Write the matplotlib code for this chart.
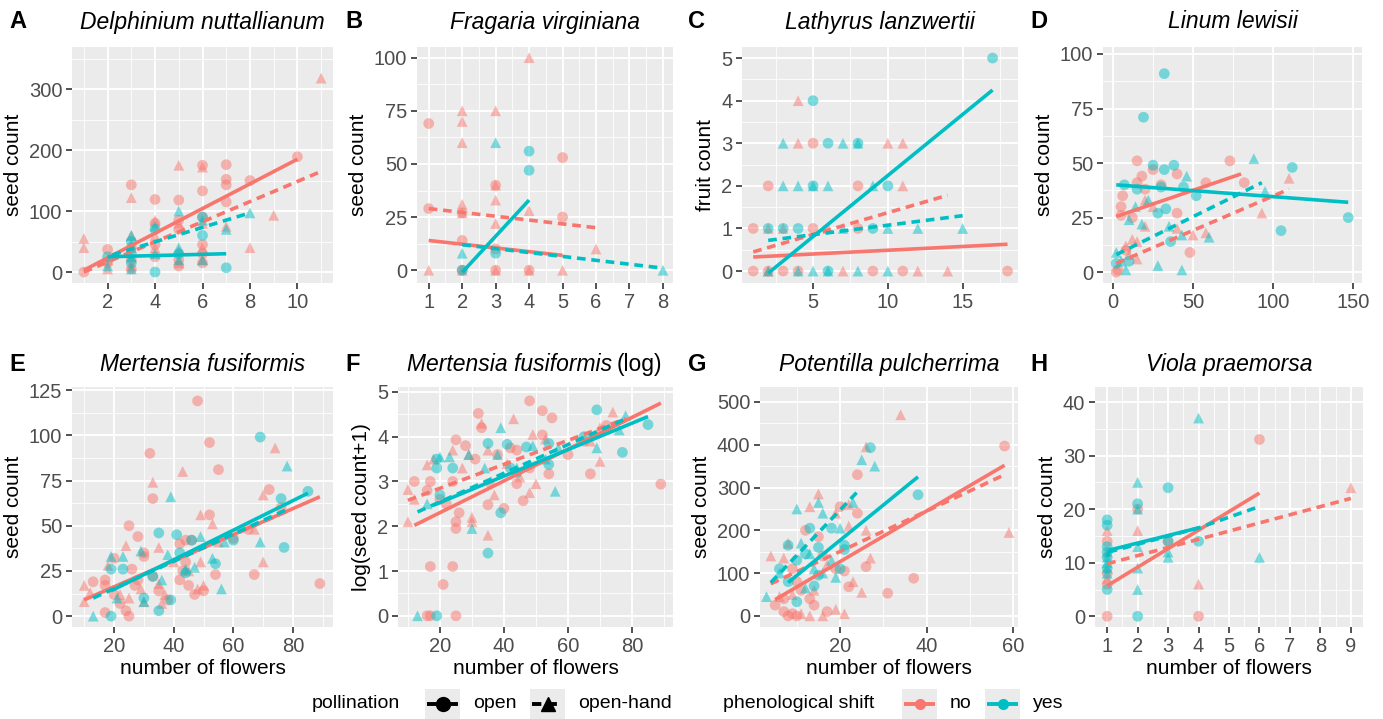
import numpy as np
import matplotlib
matplotlib.use("Agg")
import matplotlib.pyplot as plt
from matplotlib.patches import Rectangle

RED = "#F8766D"
CYAN = "#00BFC4"

# ---------------- data ----------------
# each group: list of (number of flowers, count)
A_no_open = [(1,0),(2,37),(2,15),(3,143),(3,40),(3,5),(4,119),(4,45),(4,25),(5,118),(5,85),(5,70),(5,20),
             (6,175),(6,133),(6,90),(6,45),(6,15),(7,176),(7,152),(7,143),(7,115),(10,189),(8,150),(4,80),(5,10),(6,30),(3,20)]
A_no_hand = [(1,55),(1,40),(2,20),(2,5),(3,122),(3,60),(3,40),(3,10),(4,85),(4,60),(4,40),(5,175),(5,80),(5,35),(5,15),
             (6,172),(6,80),(6,40),(6,20),(7,75),(8,40),(9,93),(11,318)]
A_yes_open = [(2,25),(3,30),(3,15),(4,0),(4,70),(5,30),(6,90),(6,60),(7,7),(3,50)]
A_yes_hand = [(2,10),(3,60),(3,45),(3,5),(4,75),(5,100),(5,40),(5,20),(6,85),(6,20),(7,70),(8,97),(4,30),(3,25)]
A_fit = {"no_open": [(1,3),(10,185)], "no_hand": [(1,0),(11,165)],
         "yes_open": [(2,25),(7,30)], "yes_hand": [(2.2,28),(8,97)]}

B_no_open = [(1,69),(1,29),(2,14),(2,0),(3,0),(3,10),(4,0),(5,53),(5,25),(3,40),(2,27)]
B_no_hand = [(1,0),(2,75),(2,70),(2,60),(2,31),(2,27),(3,75),(3,40),(3,33),(3,22),(3,0),(4,100),(4,28),(4,0),(5,0),(6,10),(2,0)]
B_yes_open = [(3,8),(4,56),(4,47),(2,0)]
B_yes_hand = [(2,8),(3,60),(8,0)]
B_fit = {"no_open": [(1,14),(5,7)], "no_hand": [(1,29),(6,20)],
         "yes_open": [(2,-1),(4,33)], "yes_hand": [(2,12),(8,1)]}

C_no_open = [(1,1),(1,0),(2,2),(3,0),(5,3),(5,1),(8,2),(8,1),(9,0),(11,0),(18,0),(4,0),(2,0)]
C_no_hand = [(4,4),(4,3),(2,0),(3,1),(10,3),(11,3),(11,2),(12,0),(14,0),(7,0),(2,1),(6,1)]
C_yes_open = [(5,4),(6,3),(3,1),(6,0),(10,2),(17,5),(9,1),(8,3),(5,2),(2,1),(4,1)]
C_yes_hand = [(3,3),(3,2),(4,2),(5,2),(6,2),(7,3),(8,3),(7,1),(10,1),(12,1),(15,1),(10,0),(8,0),(5,0),(4,0),(9,2),(2,0),(6,0)]
C_fit = {"no_open": [(1,0.33),(18,0.63)], "no_hand": [(1,0.45),(14,1.78)],
         "yes_open": [(2,-0.05),(17,4.25)], "yes_hand": [(2,0.72),(15,1.3)]}

D_no_open = [(2,0),(5,30),(6,35),(5,26),(15,51),(18,44),(15,41),(20,38),(25,47),(30,40),(40,45),(40,27),(48,9),
             (58,41),(73,51),(82,41),(8,10),(12,25),(3,1)]
D_no_hand = [(8,12),(10,8),(15,6),(15,14),(20,21),(25,30),(40,20),(50,17),(58,18),(93,27),(110,43),(20,33),(12,15)]
D_yes_open = [(2,4),(7,40),(15,38),(19,71),(32,91),(25,49),(32,47),(38,49),(30,39),(33,29),(36,14),(44,39),(52,35),
              (105,19),(112,48),(147,25),(28,27),(10,5)]
D_yes_hand = [(2,9),(8,1),(10,24),(14,30),(18,22),(22,33),(28,3),(35,21),(43,17),(46,44),(43,1),(60,16),(88,52),(95,37),(5,5)]
D_fit = {"no_open": [(2,25.5),(80,45)], "no_hand": [(2,4),(110,38)],
         "yes_open": [(2,40),(147,32)], "yes_hand": [(2,8),(93,41)]}

E_no_open = [(48,119),(52,96),(55,81),(32,90),(33,65),(72,70),(52,56),(25,50),(28,44),(17,20),(13,19),(17,17),(20,12),
             (22,7),(17,2),(24,3),(25,0),(27,17),(30,33),(42,40),(44,42),(42,20),(45,17),(47,12),(50,14),(54,23),(67,23),
             (89,18),(38,9),(35,14),(33,22),(30,35),(20,32),(26,26),(28,20),(44,30),(43,25),(46,42),(60,43),(65,48),(76,60)]
E_no_hand = [(33,74),(43,80),(74,93),(70,67),(70,30),(67,48),(49,56),(53,51),(35,38),(24,39),(18,28),(10,17),(10,8),
             (12,13),(29,15),(30,8),(35,18),(37,12),(40,30),(45,25),(49,30),(50,17),(48,15),(36,7),(25,10),(22,12),(55,41)]
E_yes_open = [(69,99),(85,69),(76,65),(77,38),(35,46),(41,45),(46,42),(54,29),(19,26),(23,26),(33,22),(35,3),(19,0),
              (39,9),(42,35),(44,24),(30,10),(60,42)]
E_yes_hand = [(39,66),(78,83),(69,41),(56,15),(53,32),(49,44),(38,34),(29,36),(23,33),(19,33),(13,0),(21,10),(30,8),
              (47,27),(57,41),(36,20),(44,26)]
E_fit = {"no_open": [(10,9),(89,66)], "no_hand": [(13,11),(78,58)],
         "yes_open": [(19,14),(85,68)], "yes_hand": [(13,10),(78,59)]}

F_no_open = [(48,4.8),(52,4.58),(55,4.42),(32,4.52),(33,4.2),(25,3.93),(28,3.8),(12,3.0),(17,3.0),(16,2.8),(24,3.0),
             (26,2.3),(25,2.1),(25,1.95),(17,1.1),(24,1.1),(21,0.7),(16,0),(17,0),(25,0),(46,2.57),(54,3.17),(67,3.17),
             (89,2.94),(72,4.25),(52,4.04),(42,3.75),(44,3.7),(35,2.48),(40,2.4),(44,2.95),(31,3.5),(38,3.6),(20,2.6),
             (22,2.5),(48,3.3),(60,3.6),(65,3.9)]
F_no_hand = [(10,2.1),(10,2.82),(12,2.6),(16,3.37),(18,3.5),(24,3.7),(27,3.3),(29,3.6),(30,2.2),(30,2.1),(33,4.3),
             (35,3.7),(35,1.8),(37,2.7),(43,4.4),(49,4.05),(50,2.95),(48,2.75),(53,3.95),(70,4.2),(70,3.45),(74,4.55),
             (67,3.9),(45,3.1),(41,3.4),(36,3.0)]
F_yes_open = [(19,3.5),(19,3.3),(20,2.7),(24,3.3),(35,3.85),(35,1.4),(39,2.3),(41,3.83),(44,3.2),(47,3.77),(54,3.38),
              (54,3.85),(65,4.0),(69,4.6),(77,3.65),(85,4.27),(19,0),(42,3.3)]
F_yes_hand = [(13,0),(16,2.5),(20,3.55),(23,3.55),(29,3.6),(30,1.95),(34,3.3),(39,4.2),(38,3.6),(49,3.8),(53,3.5),
              (56,2.78),(57,3.75),(69,3.75),(76,4.15),(78,4.47),(44,3.3)]
F_fit = {"no_open": [(12,2.02),(89,4.75)], "no_hand": [(10,2.58),(78,4.4)],
         "yes_open": [(18,2.47),(85,4.45)], "yes_hand": [(13,2.32),(78,4.4)]}

G_no_open = [(5,25),(7,10),(8,0),(9,5),(10,0),(12,200),(15,185),(20,255),(21,105),(22,68),(24,330),(24,240),(26,115),
             (31,53),(37,88),(58,397),(10,80),(13,40),(14,25),(17,10),(11,60),(16,140),(19,110),(7,40),(9,110)]
G_no_hand = [(4,140),(7,135),(8,170),(13,255),(15,285),(19,240),(22,260),(22,210),(23,80),(25,55),(26,200),(26,395),
             (27,135),(34,470),(59,195),(6,45),(11,5),(13,0),(16,0),(19,15),(21,5),(14,60),(17,120),(9,50)]
G_yes_open = [(6,110),(8,80),(8,165),(10,130),(10,33),(13,205),(14,70),(15,160),(15,95),(18,205),(21,165),(21,155),
              (27,393),(38,283),(12,145),(20,110)]
G_yes_hand = [(3,45),(6,100),(10,250),(11,170),(13,145),(15,265),(16,240),(16,100),(19,90),(20,205),(23,265),(25,365),
              (28,350),(12,65),(18,130),(14,110)]
G_fit = {"no_open": [(5,38),(58,352)], "no_hand": [(4,75),(58,330)],
         "yes_open": [(8,78),(38,325)], "yes_hand": [(4,78),(24,290)]}

H_no_open = [(1,0),(1,6),(1,8),(1,14),(3,14),(4,0),(6,33),(2,20)]
H_no_hand = [(1,16),(1,12),(2,16),(4,6),(9,24),(1,7)]
H_yes_open = [(1,18),(1,17),(1,13),(1,9),(1,5),(1,11),(2,21),(2,0),(3,24),(3,14),(4,14),(1,12)]
H_yes_hand = [(1,11),(1,9),(1,8),(1,10),(2,25),(2,20),(2,13),(2,9),(2,5),(3,11),(3,12),(4,37),(6,11)]
H_fit = {"no_open": [(1,5.7),(6,23)], "no_hand": [(1,9.8),(9,22)],
         "yes_open": [(1,11.2),(1.1,12.4),(4,16.5)], "yes_hand": [(1.05,12.0),(4,16.5),(6,20.5)]}

panels = [
    ("A", "Delphinium nuttallianum", None, "seed count", (A_no_open, A_no_hand, A_yes_open, A_yes_hand), A_fit,
     (0.5, 11.5), (-18, 369), [2,4,6,8,10], [0,100,200,300], (72, 47, 333, 283), False),
    ("B", "Fragaria virginiana", None, "seed count", (B_no_open, B_no_hand, B_yes_open, B_yes_hand), B_fit,
     (0.65, 8.3), (-6, 105), [1,2,3,4,5,6,7,8], [0,25,50,75,100], (417, 47, 673, 283), False),
    ("C", "Lathyrus lanzwertii", None, "fruit count", (C_no_open, C_no_hand, C_yes_open, C_yes_hand), C_fit,
     (0.25, 18.7), (-0.28, 5.26), [5,10,15], [0,1,2,3,4,5], (742, 47, 1018, 283), False),
    ("D", "Linum lewisii", None, "seed count", (D_no_open, D_no_hand, D_yes_open, D_yes_hand), D_fit,
     (-6.3, 155.6), (-5, 103.2), [0,50,100,150], [0,25,50,75,100], (1103, 47, 1362, 283), False),
    ("E", "Mertensia fusiformis", "number of flowers", "seed count", (E_no_open, E_no_hand, E_yes_open, E_yes_hand), E_fit,
     (5.9, 93.4), (-6, 126.7), [20,40,60,80], [0,25,50,75,100,125], (72, 387, 333, 627), False),
    ("F", "Mertensia fusiformis", "number of flowers", "log(seed count+1)", (F_no_open, F_no_hand, F_yes_open, F_yes_hand), F_fit,
     (6.9, 92.8), (-0.25, 5.11), [20,40,60,80], [0,1,2,3,4,5], (398, 387, 673, 627), True),
    ("G", "Potentilla pulcherrima", "number of flowers", "seed count", (G_no_open, G_no_hand, G_yes_open, G_yes_hand), G_fit,
     (1.5, 61.1), (-26, 535), [20,40,60], [0,100,200,300,400,500], (760, 387, 1018, 627), False),
    ("H", "Viola praemorsa", "number of flowers", "seed count", (H_no_open, H_no_hand, H_yes_open, H_yes_hand), H_fit,
     (0.6, 9.4), (-2, 42.8), [1,2,3,4,5,6,7,8,9], [0,10,20,30,40], (1095, 387, 1363, 627), False),
]

W, H = 1383, 719
fig = plt.figure(figsize=(W/100, H/100), dpi=100)
plt.rcParams['font.family'] = ['Liberation Sans', 'DejaVu Sans']

def ax_rect(l, t, r, b):
    return [l/W, 1 - b/H, (r-l)/W, (b-t)/H]

DASH = (0, (2.4, 1.6))
TFS = 16.5

for letter, title, xlabel, ylabel, groups, fit, xlim, ylim, xt, yt, rect, logtitle in panels:
    ax = fig.add_axes(ax_rect(*rect))
    ax.set_facecolor("#EBEBEB")
    for s in ax.spines.values():
        s.set_visible(False)
    ax.set_xticks(xt); ax.set_yticks(yt)
    xs = np.diff(xt)[0]; ys = np.diff(yt)[0]
    xm = np.arange(xt[0] - xs/2, xlim[1] + xs, xs)
    ym = np.arange(yt[0] - ys/2, ylim[1] + ys, ys)
    ax.set_xticks(xm, minor=True); ax.set_yticks(ym, minor=True)
    ax.grid(True, which="major", color="white", lw=1.3, zorder=0)
    ax.grid(True, which="minor", color="white", lw=0.6, zorder=0)
    ax.set_axisbelow(True)
    ax.tick_params(which="major", length=4, width=1.2, color="#333333", labelcolor="#4D4D4D", labelsize=14.5, pad=3)
    ax.tick_params(which="minor", length=0)
    ax.set_xlim(*xlim); ax.set_ylim(*ylim)
    colors = [RED, RED, CYAN, CYAN]
    markers = ["o", "^", "o", "^"]
    for pts, c, m in zip(groups, colors, markers):
        p = np.array(pts, dtype=float)
        ax.scatter(p[:, 0], p[:, 1], s=60, marker=m, color=c, alpha=0.5, edgecolors="none", zorder=2)
    for key, c, ls in [("no_open", RED, "-"), ("no_hand", RED, DASH), ("yes_open", CYAN, "-"), ("yes_hand", CYAN, DASH)]:
        q = np.array(fit[key], dtype=float)
        ax.plot(q[:, 0], q[:, 1], color=c, lw=2.6, ls=ls, zorder=3, solid_capstyle="butt")
    ax.set_ylabel(ylabel, fontsize=15, color="black", labelpad=4)
    if xlabel:
        ax.set_xlabel(xlabel, fontsize=15, color="black", labelpad=2)
    top = rect[1]
    ty_fig = 1 - ((22 if letter in "ABCD" else 365)) / H
    cx = (rect[0] + rect[2]) / 2 / W
    if logtitle:
        fig.text(612 / W, ty_fig, title, ha="right", va="center", fontsize=TFS, style="italic")
        fig.text(617 / W, ty_fig, "(log)", ha="left", va="center", fontsize=TFS)
    else:
        fig.text(cx, ty_fig, title, ha="center", va="center", fontsize=TFS, style="italic")
    lx = {"A": 9, "B": 345, "C": 688, "D": 1030, "E": 9, "F": 345, "G": 688, "H": 1030}[letter]
    fig.text(lx/W, ty_fig, letter, fontsize=17, fontweight="bold", va="center", ha="left")

# ---------------- legend ----------------
lax = fig.add_axes([0, 0, 1, 1], zorder=-1)
lax.set_xlim(0, W); lax.set_ylim(H, 0); lax.axis("off")
ly = 704
lax.text(312, ly, "pollination", fontsize=14, va="center", ha="left")
lax.text(723, ly, "phenological shift", fontsize=14, va="center", ha="left")
legend_items = [(425, "black", "-", "o", 10, "open"), (530, "black", DASH, "^", 10, "open-hand"),
                (902, RED, "-", "o", 7, "no"), (985, CYAN, "-", "o", 7, "yes")]
for x0, c, ls, m, ms, lab in legend_items:
    lax.add_patch(Rectangle((x0, ly - 15), 35, 30, color="#EBEBEB", lw=0))
    lax.plot([x0 + 2, x0 + 33], [ly, ly], color=c, lw=2.8, ls=ls, solid_capstyle="butt")
    lax.plot([x0 + 17.5], [ly], marker=m, color=c, ms=ms, ls="none")
    lax.text(x0 + 48, ly, lab, fontsize=14, va="center", ha="left")

fig.savefig("out.png", dpi=100)
